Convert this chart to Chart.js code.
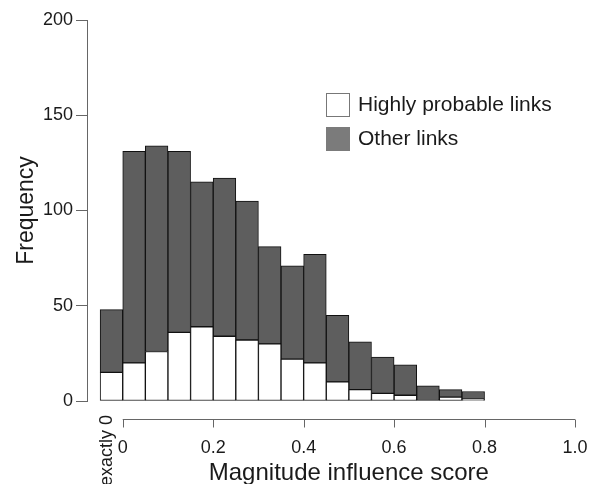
<!DOCTYPE html>
<html>
<head>
<meta charset="utf-8">
<script src="https://cdn.jsdelivr.net/npm/chart.js@4"></script>
<style>
  html, body { margin: 0; padding: 0; background: #fff; }
  #wrap { width: 596px; height: 484px; }
</style>
</head>
<body>
<div id="wrap"><canvas id="hist"></canvas></div>
<script>
// bin centres: first bin is the "exactly 0" bar, the rest are 0.05 wide bins from 0 to 0.8
const binCentres     = [-0.025, 0.025, 0.075, 0.125, 0.175, 0.225, 0.275, 0.325, 0.375,
                        0.425, 0.475, 0.525, 0.575, 0.625, 0.675, 0.725, 0.775];
const highlyProbable = [15, 20, 26, 36, 39, 34, 32, 30, 22, 20, 10, 6, 4, 3, 0, 2, 1];
const otherLinks     = [33, 111, 108, 95, 76, 83, 73, 51, 49, 57, 35, 25, 19, 16, 8, 4, 4];
const xTicks         = [0, 0.2, 0.4, 0.6, 0.8, 1.0];
const yTicks         = [0, 50, 100, 150, 200];
const seriesNames    = ['Highly probable links', 'Other links'];

const FONT = '"Liberation Sans", Arial, Helvetica, sans-serif';
const INK  = '#1a1a1a';
const AXIS = '#666';
const legendFills = ['#ffffff', '#7b7b7b'];

const toPoints = vals => vals.map((v, i) => ({ x: binCentres[i], y: v }));

// R-style detached x axis, "exactly 0" label, axis title and legend
const rAxisPlugin = {
    id: 'rAxis',
    afterDraw(chart) {
        const { ctx, chartArea } = chart;
        const x = chart.scales.x;
        const axisY = chartArea.bottom + 18.5;

        ctx.save();
        ctx.strokeStyle = AXIS;
        ctx.lineWidth = 1;
        ctx.beginPath();
        ctx.moveTo(x.getPixelForValue(xTicks[0]), axisY);
        ctx.lineTo(x.getPixelForValue(xTicks[xTicks.length - 1]), axisY);
        xTicks.forEach(v => {
            const px = Math.round(x.getPixelForValue(v)) + 0.5;
            ctx.moveTo(px, axisY);
            ctx.lineTo(px, axisY + 8);
        });
        ctx.stroke();

        ctx.fillStyle = INK;
        // rotated label under the "exactly 0" bar
        ctx.save();
        ctx.translate(x.getPixelForValue(binCentres[0]) - 4, chartArea.bottom + 14);
        ctx.rotate(-Math.PI / 2);
        ctx.font = `18px ${FONT}`;
        ctx.textAlign = 'right';
        ctx.textBaseline = 'middle';
        ctx.fillText('exactly 0', 0, 0);
        ctx.restore();

        // x axis title, centred under the 0..1 axis line
        ctx.font = `24px ${FONT}`;
        ctx.textAlign = 'center';
        ctx.textBaseline = 'alphabetic';
        const mid = (x.getPixelForValue(xTicks[0]) + x.getPixelForValue(xTicks[xTicks.length - 1])) / 2;
        ctx.fillText('Magnitude influence score', mid, 480);

        // legend
        ctx.font = `21px ${FONT}`;
        ctx.textAlign = 'left';
        ctx.textBaseline = 'middle';
        chart.data.datasets.forEach((ds, i) => {
            const top = 93 + i * 34;
            ctx.fillStyle = legendFills[i];
            ctx.fillRect(326, top, 24, 24);
            ctx.strokeStyle = i === 0 ? '#777' : legendFills[i];
            ctx.strokeRect(326.5, top + 0.5, 23, 23);
            ctx.fillStyle = INK;
            ctx.fillText(ds.label, 358, top + 12.5);
        });
        ctx.restore();
    },
};

new Chart(document.getElementById('hist'), {
    type: 'bar',
    data: {
        datasets: [
            {
                label: seriesNames[0],
                data: toPoints(highlyProbable),
                backgroundColor: '#ffffff',
                borderColor: '#111',
                borderWidth: 1,
                borderSkipped: false,
                barPercentage: 1,
                categoryPercentage: 1,
            },
            {
                label: seriesNames[1],
                data: toPoints(otherLinks),
                backgroundColor: '#5e5e5e',
                borderColor: '#111',
                borderWidth: 1,
                borderSkipped: false,
                barPercentage: 1,
                categoryPercentage: 1,
            },
        ],
    },
    options: {
        responsive: true,
        maintainAspectRatio: false,
        animation: false,
        layout: { padding: { top: 20, right: 21, bottom: 0, left: 0 } },
        scales: {
            x: {
                type: 'linear',
                stacked: true,
                offset: false,
                min: -0.079,
                max: 1.0,
                afterBuildTicks: s => { s.ticks = xTicks.map(v => ({ value: v })); },
                afterFit: s => { s.height = 83; s.paddingLeft = 0; s.paddingRight = 0; },
                grid: { display: false, offset: false },
                border: { display: false },
                ticks: {
                    padding: 28,
                    color: INK,
                    font: { family: FONT, size: 18 },
                    maxRotation: 0,
                    callback: v => (v === 0 ? '0' : v.toFixed(1)),
                },
            },
            y: {
                stacked: true,
                min: 0,
                max: 200,
                afterBuildTicks: s => { s.ticks = yTicks.map(v => ({ value: v })); },
                afterFit: s => { s.width = 87; },
                grid: { drawOnChartArea: false, tickLength: 11, color: AXIS },
                border: { color: AXIS },
                ticks: { padding: 3, color: INK, font: { family: FONT, size: 18 } },
                title: {
                    display: true,
                    text: 'Frequency',
                    color: INK,
                    font: { family: FONT, size: 23 },
                    padding: { top: 13, bottom: 0 },
                },
            },
        },
        plugins: {
            legend: { display: false },
            tooltip: { enabled: false },
        },
    },
    plugins: [rAxisPlugin],
});
</script>
</body>
</html>
